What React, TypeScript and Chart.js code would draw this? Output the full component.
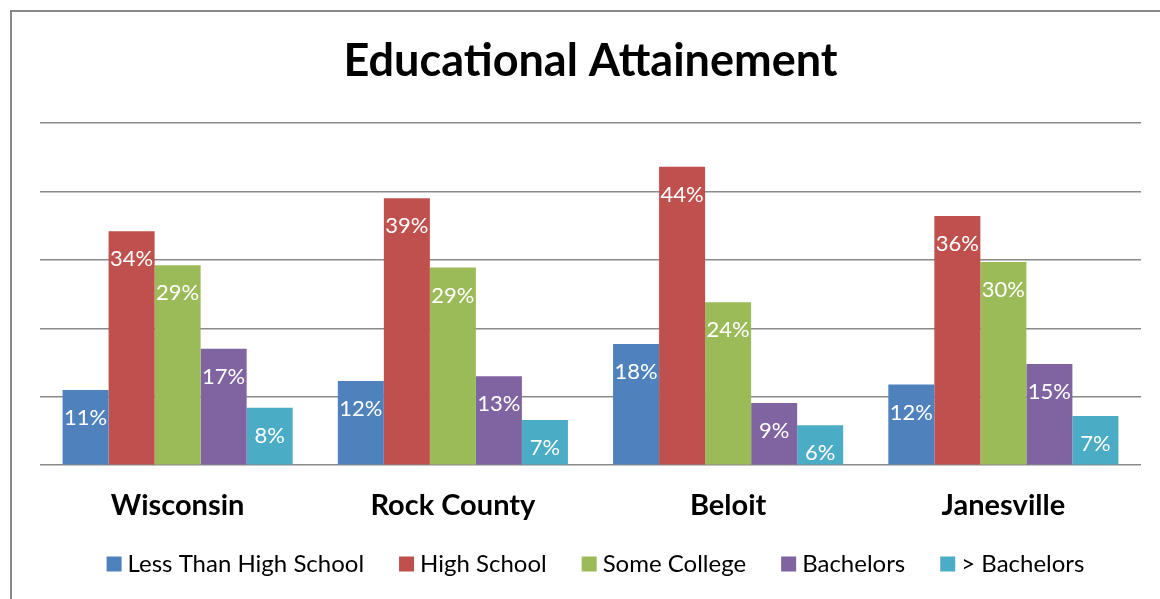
import React, { useEffect, useRef } from "react";
import { Chart, registerables } from "chart.js";

Chart.register(...registerables);

const categories = ["Wisconsin", "Rock County", "Beloit", "Janesville"];
const seriesNames = ["Less Than High School", "High School", "Some College", "Bachelors", "> Bachelors"];
const lessThanHighSchool = [11.0, 12.3, 17.7, 11.8];
const highSchool = [34.2, 39.0, 43.6, 36.4];
const someCollege = [29.2, 28.9, 23.8, 29.7];
const bachelors = [17.0, 13.0, 9.1, 14.8];
const aboveBachelors = [8.4, 6.6, 5.85, 7.2];
const colors = ["#4F81BD", "#C0504D", "#9BBB59", "#8064A2", "#4BACC6"];

const FONT = "Lato, 'Open Sans', sans-serif";

const labelPlugin = {
  id: "barLabels",
  afterDatasetsDraw(chart: any) {
    const ctx = chart.ctx;
    ctx.save();
    ctx.fillStyle = "#ffffff";
    ctx.font = `22px ${FONT}`;
    ctx.textAlign = "center";
    ctx.textBaseline = "middle";
    chart.data.datasets.forEach((ds: any, i: number) => {
      const meta = chart.getDatasetMeta(i);
      meta.data.forEach((bar: any, j: number) => {
        const v = ds.data[j];
        ctx.fillText(`${Math.round(v)}%`, bar.x, bar.y + 28);
      });
    });
    ctx.restore();
  },
};

const framePlugin = {
  id: "frame",
  beforeDraw(chart: any) {
    const ctx = chart.ctx;
    ctx.save();
    ctx.strokeStyle = "#888888";
    ctx.lineWidth = 2;
    ctx.beginPath();
    ctx.moveTo(11, chart.height + 5);
    ctx.lineTo(11, 11);
    ctx.lineTo(chart.width + 5, 11);
    ctx.stroke();
    ctx.restore();
  },
};

const legendPlugin = {
  id: "customLegend",
  afterDraw(chart: any) {
    const ctx = chart.ctx;
    const box = 15;
    const textGap = 6;
    const itemGap = 35;
    const y = 564;
    ctx.save();
    ctx.font = `24px ${FONT}`;
    const items = chart.data.datasets.map((ds: any) => ({
      text: ds.label,
      color: ds.backgroundColor,
      w: ctx.measureText(ds.label).width,
    }));
    const total =
      items.reduce((s: number, it: any) => s + box + textGap + it.w, 0) + itemGap * (items.length - 1);
    const center = (chart.chartArea.left + chart.chartArea.right) / 2 + 5;
    let x = center - total / 2;
    ctx.textBaseline = "middle";
    ctx.textAlign = "left";
    items.forEach((it: any) => {
      ctx.fillStyle = it.color;
      ctx.fillRect(x, y - box / 2, box, box);
      ctx.fillStyle = "#000";
      ctx.fillText(it.text, x + box + textGap, y);
      x += box + textGap + it.w + itemGap;
    });
    ctx.restore();
  },
};

export default function App() {
  const ref = useRef<HTMLCanvasElement>(null);
  useEffect(() => {
    if (!ref.current) return;
    const allSeries = [lessThanHighSchool, highSchool, someCollege, bachelors, aboveBachelors];
    const chart = new Chart(ref.current, {
      type: "bar",
      data: {
        labels: categories,
        datasets: allSeries.map((d, i) => ({
          label: seriesNames[i],
          data: d,
          backgroundColor: colors[i],
          borderWidth: 0,
          barPercentage: 1,
          categoryPercentage: 0.836,
        })),
      },
      options: {
        animation: false,
        responsive: false,
        layout: { padding: { left: 40, right: 19, top: 0, bottom: 53 } },
        scales: {
          x: {
            grid: { display: false, drawTicks: false },
            border: { display: false },
            ticks: {
              color: "#000",
              padding: 23,
              font: { family: FONT, size: 29, weight: "bold" },
            },
          },
          y: {
            min: 0,
            max: 50,
            ticks: { display: false, stepSize: 10 },
            border: { display: false },
            grid: { color: "#8a8a8a", lineWidth: 1.5, drawTicks: false },
          },
        },
        plugins: {
          title: {
            display: true,
            text: "Educational Attainement",
            color: "#000",
            font: { family: FONT, size: 45, weight: "bold" },
            padding: { top: 34, bottom: 35 },
          },
          legend: { display: false },
          tooltip: { enabled: false },
        },
      },
      plugins: [labelPlugin, framePlugin, legendPlugin],
    });
    return () => chart.destroy();
  }, []);
  return (
    <div style={{ position: "absolute", left: 0, top: 0, width: 1160, height: 599, background: "#fff" }}>
      <canvas ref={ref} width={1160} height={599} style={{ width: 1160, height: 599 }} />
    </div>
  );
}
